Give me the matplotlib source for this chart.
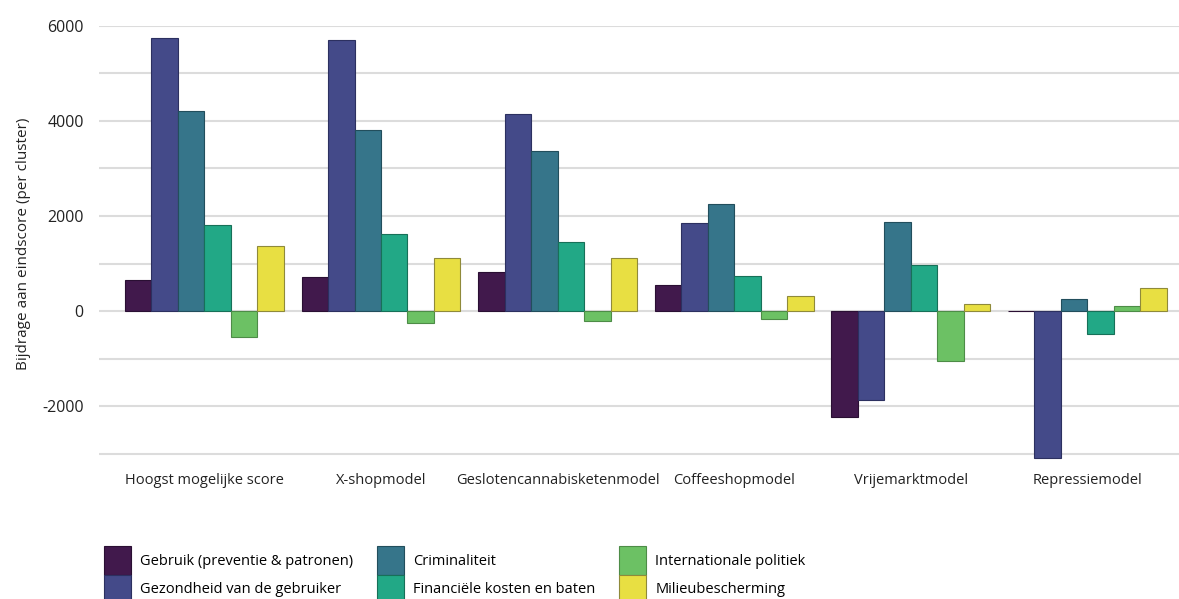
import numpy as np
import matplotlib.pyplot as plt
from matplotlib.ticker import MultipleLocator

plt.rcParams['font.family'] = ['Open Sans', 'DejaVu Sans']
plt.rcParams['axes.unicode_minus'] = False

models = ["Hoogst mogelijke score", "X-shopmodel", "Geslotencannabisketenmodel",
          "Coffeeshopmodel", "Vrijemarktmodel", "Repressiemodel"]
series = ["Gebruik (preventie & patronen)", "Gezondheid van de gebruiker", "Criminaliteit",
          "Financiële kosten en baten", "Internationale politiek", "Milieubescherming"]

gebruik = [650, 710, 815, 555, -2240, -5]
gezondheid = [5750, 5710, 4155, 1845, -1875, -3100]
criminaliteit = [4210, 3810, 3375, 2255, 1865, 255]
financieel = [1810, 1615, 1455, 745, 960, -490]
internationaal = [-550, -260, -205, -170, -1060, 100]
milieu = [1375, 1110, 1110, 315, 140, 490]

values = [gebruik, gezondheid, criminaliteit, financieel, internationaal, milieu]
colors = ["#41194c", "#444a89", "#36758a", "#22a886", "#6cc164", "#e8df42"]
edges = ["#2a0f33", "#2c3060", "#224e5c", "#177058", "#4d8c47", "#8f8a3a"]

fig = plt.figure(figsize=(11.79, 5.99), dpi=100)
ax = fig.add_axes([0.084, 0.231, 0.916, 0.7256])

x = np.arange(len(models))
w = 0.15
for i, (vals, c, e) in enumerate(zip(values, colors, edges)):
    ax.bar(x - 0.375 + i * w, vals, width=w, color=c, edgecolor=e, linewidth=0.8,
           label=series[i], zorder=3)

ax.set_xlim(-0.597, 5.52)
ax.set_ylim(-3150, 6000)
ax.yaxis.set_major_locator(MultipleLocator(2000))
ax.yaxis.set_minor_locator(MultipleLocator(1000))
ax.grid(axis='y', which='both', color='#dcdcdc', linewidth=1.5, zorder=0)
for s in ax.spines.values():
    s.set_visible(False)
ax.tick_params(axis='both', which='both', length=0)
ax.tick_params(axis='y', pad=11, labelsize=11.5, labelcolor='#222222')
ax.tick_params(axis='x', pad=9, labelsize=10.5, labelcolor='#222222')
ax.set_xticks(x)
ax.set_xticklabels(models)
ax.set_ylabel("Bijdrage aan eindscore (per cluster)", fontsize=11, color='#222222', labelpad=8)

fig.legend(loc='upper left', bbox_to_anchor=(0.088, 0.088), ncol=3, frameon=False,
           fontsize=10.5, handlelength=1.9, handleheight=2.6, labelspacing=0.0,
           columnspacing=1.6, handletextpad=0.6, borderaxespad=0, borderpad=0)

fig.savefig("out.png", dpi=100)
